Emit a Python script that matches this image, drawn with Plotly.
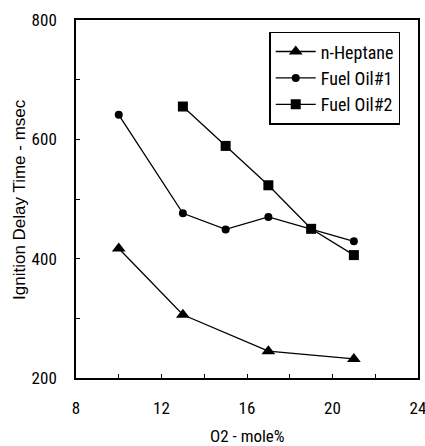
import plotly.graph_objects as go

series_names = ["n-Heptane", "Fuel Oil#1", "Fuel Oil#2"]
heptane_x = [10, 13, 17, 21]
heptane_y = [417, 306, 245, 232]
fo1_x = [10, 13, 15, 17, 21]
fo1_y = [641, 476, 449, 470, 429]
fo2_x = [13, 15, 17, 19, 21]
fo2_y = [655, 589, 523, 450, 406]
x_ticks = [8, 12, 16, 20, 24]
y_ticks = [200, 400, 600, 800]
x_title = "O2 - mole%"
y_title = "Ignition Delay Time - msec"

COND = "Roboto Condensed, Liberation Sans Narrow, sans-serif"
SANS = "Liberation Sans, Arial, sans-serif"

fig = go.Figure()
fig.add_trace(go.Scatter(x=heptane_x, y=heptane_y, name=series_names[0], mode="lines+markers",
                         line=dict(color="black", width=1.3),
                         marker=dict(symbol="triangle-up", size=12, color="black")))
fig.add_trace(go.Scatter(x=fo1_x, y=fo1_y, name=series_names[1], mode="lines+markers",
                         line=dict(color="black", width=1.3),
                         marker=dict(symbol="circle", size=8, color="black")))
fig.add_trace(go.Scatter(x=fo2_x, y=fo2_y, name=series_names[2], mode="lines+markers",
                         line=dict(color="black", width=1.3),
                         marker=dict(symbol="square", size=10, color="black")))

fig.update_layout(
    width=425, height=446,
    margin=dict(l=76, r=7, t=20, b=68, autoexpand=False),
    paper_bgcolor="white", plot_bgcolor="white",
    font=dict(family=COND, size=17, color="black"),
    showlegend=True,
    legend=dict(x=0.565, y=0.967, xanchor="left", yanchor="top",
                bordercolor="black", borderwidth=1.5, bgcolor="white",
                font=dict(size=18, family=COND), tracegroupgap=0, itemwidth=40),
)
fig.add_annotation(text=x_title, xref="paper", yref="paper", x=0.5, y=-0.162,
                   xanchor="center", yanchor="middle", showarrow=False,
                   font=dict(family=COND, size=17))
fig.add_annotation(text=y_title, xref="paper", yref="paper", x=-0.1667, y=0.5,
                   xanchor="center", yanchor="middle", showarrow=False, textangle=-90,
                   font=dict(family=SANS, size=17))
fig.update_xaxes(range=[8, 24], tickvals=x_ticks, ticktext=[str(v) for v in x_ticks],
                 showgrid=False, zeroline=False, showline=True, linecolor="black", linewidth=1.6,
                 mirror=True, ticks="inside", ticklen=4, tickcolor="black", automargin=False,
                 ticklabeloverflow="allow",
                 minor=dict(tickvals=[10, 14, 18, 22], ticks="inside", ticklen=4, tickcolor="black"),
                 ticklabelstandoff=14)
fig.update_yaxes(range=[200, 800], tickvals=y_ticks, ticktext=[str(v) for v in y_ticks],
                 showgrid=False, zeroline=False, showline=True, linecolor="black", linewidth=1.6,
                 mirror=True, ticks="inside", ticklen=4, tickcolor="black", automargin=False,
                 ticklabeloverflow="allow",
                 minor=dict(tickvals=[300, 500, 700], ticks="inside", ticklen=4, tickcolor="black"),
                 ticklabelstandoff=14)

fig.write_html("out.html", config={"displayModeBar": False},
               post_script="document.body.style.margin='0';document.body.style.overflow='hidden';")
